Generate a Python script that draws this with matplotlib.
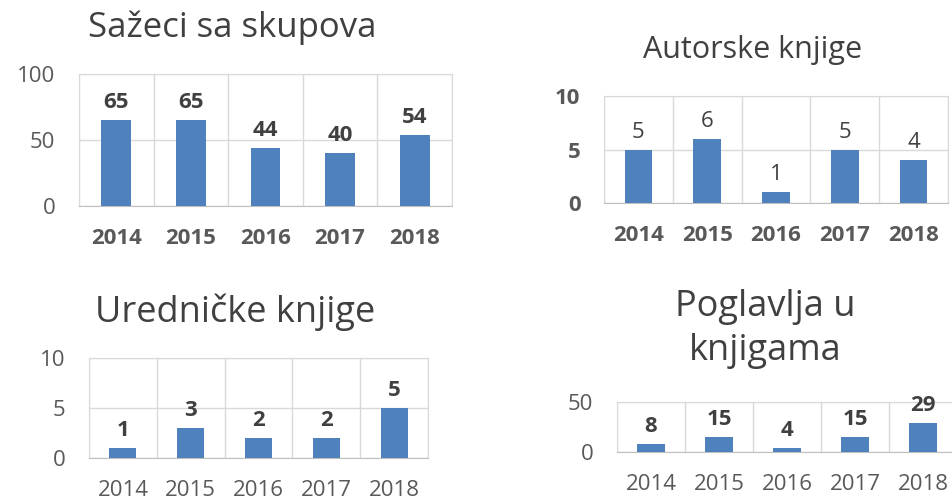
import matplotlib.pyplot as plt
import numpy as np

plt.rcParams['font.family'] = ['Open Sans', 'DejaVu Sans']

years = ["2014", "2015", "2016", "2017", "2018"]
sazeci = [65, 65, 44, 40, 54]
autorske = [5, 6, 1, 5, 4]
urednicke = [1, 3, 2, 2, 5]
poglavlja = [8, 15, 4, 15, 29]

bar_color = "#4F81BD"
grid_color = "#D9D9D9"
tick_color = "#595959"
label_color = "#404040"


def draw_panel(ax, values, ymax, ystep, xbold, ybold, lbold, fsize=16):
    x = np.arange(len(values))
    ax.bar(x, values, width=0.4, color=bar_color, zorder=3)
    ax.set_xlim(-0.5, len(values) - 0.5)
    ax.set_ylim(0, ymax)
    ax.set_yticks(np.arange(0, ymax + 1, ystep))
    ax.set_xticks(x)
    ax.set_xticklabels(years)
    ax.set_xticks(np.arange(-0.5, len(values), 1), minor=True)
    ax.grid(True, axis="y", which="major", color=grid_color, lw=1, zorder=0)
    ax.grid(True, axis="x", which="minor", color=grid_color, lw=1, zorder=0)
    for s in ax.spines.values():
        s.set_color(grid_color)
    ax.spines["bottom"].set_color("#BFBFBF")
    ax.tick_params(which="both", length=0)
    ax.tick_params(axis="x", pad=16, labelsize=fsize, colors=tick_color)
    ax.tick_params(axis="y", pad=17, labelsize=fsize, colors=tick_color)
    for t in ax.get_xticklabels():
        t.set_fontweight("bold" if xbold else "normal")
    for t in ax.get_yticklabels():
        t.set_fontweight("bold" if ybold else "normal")
    for xi, v in zip(x, values):
        ax.annotate(str(v), (xi, v), xytext=(0, 5), textcoords="offset points",
                    ha="center", va="bottom", fontsize=fsize, color=label_color,
                    fontweight="bold" if lbold else "normal", zorder=4)


fig = plt.figure(figsize=(9.53, 5.04), dpi=100)

ax1 = fig.add_axes([0.0829, 0.5913, 0.3914, 0.2619])
draw_panel(ax1, sazeci, 100, 50, True, False, True)
fig.text(0.092, 0.945, "Sažeci sa skupova", fontsize=25, color=label_color, va="center")

ax2 = fig.add_axes([0.6338, 0.5972, 0.361, 0.2123])
draw_panel(ax2, autorske, 10, 5, True, True, False)
fig.text(0.79, 0.9, "Autorske knjige", fontsize=22, color=label_color, ha="center", va="center")

ax3 = fig.add_axes([0.0934, 0.0913, 0.3557, 0.1984])
draw_panel(ax3, urednicke, 10, 5, False, False, True)
fig.text(0.1, 0.38, "Uredničke knjige", fontsize=26, color=label_color, va="center")

ax4 = fig.add_axes([0.6474, 0.1032, 0.3568, 0.0992])
draw_panel(ax4, poglavlja, 50, 50, False, False, True)
fig.text(0.803, 0.347, "Poglavlja u\nknjigama", fontsize=26, color=label_color,
         ha="center", va="center", linespacing=1.3)

fig.savefig("out.png", dpi=100)
